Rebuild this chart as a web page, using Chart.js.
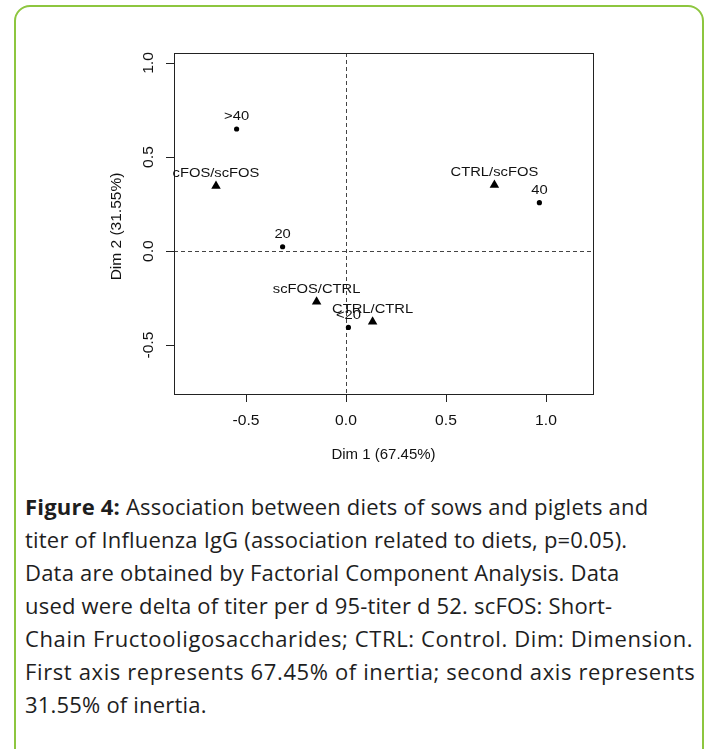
<!DOCTYPE html>
<html>
<head>
<meta charset="utf-8">
<script src="https://cdn.jsdelivr.net/npm/chart.js@4.4.1/dist/chart.umd.min.js"></script>
<style>
  html, body { margin: 0; padding: 0; background: #fff; }
  body { width: 713px; height: 749px; position: relative; overflow: hidden; }
  .card {
    position: absolute; left: 14px; top: 5px; width: 690px; height: 760px;
    border: 2px solid #8dc63f; border-radius: 16px; box-sizing: border-box;
  }
  #chart { position: absolute; left: 0; top: 0; }
  .caption {
    position: absolute; left: 25px; top: 490px;
    font-family: "Open Sans", Lato, sans-serif; font-size: 22px; line-height: 33px;
    letter-spacing: 0.2px; color: #1e1e1e; white-space: nowrap;
  }
  .wide { letter-spacing: 0.62px; }
</style>
</head>
<body>
<div class="card"></div>
<canvas id="chart" width="713" height="480"></canvas>
<div class="caption">
  <b>Figure 4:</b> Association between diets of sows and piglets and<br>
  titer of Influenza IgG (association related to diets, p=0.05).<br>
  Data are obtained by Factorial Component Analysis. Data<br>
  used were delta of titer per d 95-titer d 52. scFOS: Short-<br>
  <span class="wide">Chain Fructooligosaccharides; CTRL: Control. Dim: Dimension.</span><br>
  <span class="wide">First axis represents 67.45% of inertia; second axis represents</span><br>
  31.55% of inertia.
</div>
<script>
// Diäten (Dreiecke)
const dietLabels = ["cFOS/scFOS", "CTRL/scFOS", "scFOS/CTRL", "CTRL/CTRL"];
const dietDim1 = [-0.65, 0.742, -0.147, 0.133];
const dietDim2 = [0.346, 0.351, -0.27, -0.376];

// Titer (Punkte)
const titerLabels = [">40", "40", "20", "<20"];
const titerDim1 = [-0.547, 0.967, -0.317, 0.012];
const titerDim2 = [0.649, 0.257, 0.023, -0.406];

// Achsen
const xTicks = [-0.5, 0.0, 0.5, 1.0];
const yTicks = [-0.5, 0.0, 0.5, 1.0];
const xTitle = "Dim 1 (67.45%)";
const yTitle = "Dim 2 (31.55%)";

const FONT = '"Liberation Sans", Arial, sans-serif';

function toPoints(xs, ys) {
  return xs.map((x, i) => ({ x: x, y: ys[i] }));
}

// Text, optional horizontal gestreckt (wie im Scan)
function drawText(ctx, txt, x, y, size, stretch, rot) {
  ctx.save();
  ctx.translate(x, y);
  if (rot) ctx.rotate(rot);
  ctx.scale(stretch, 1);
  ctx.font = size + "px " + FONT;
  ctx.fillStyle = "#111";
  ctx.textAlign = "center";
  ctx.textBaseline = "middle";
  ctx.fillText(txt, 0, 0);
  ctx.restore();
}

// Rahmen, Achsen, Nulllinien und Beschriftungen im R-Stil
const rAxesPlugin = {
  id: "rAxes",
  beforeDatasetsDraw(chart) {
    const { ctx, chartArea: a, scales: { x, y } } = chart;
    ctx.save();
    ctx.strokeStyle = "#444";
    ctx.lineWidth = 1;
    ctx.setLineDash([4, 3]);
    const x0 = Math.round(x.getPixelForValue(0)) + 0.5;
    const y0 = Math.round(y.getPixelForValue(0)) + 0.5;
    ctx.beginPath();
    ctx.moveTo(x0, a.top); ctx.lineTo(x0, a.bottom);
    ctx.moveTo(a.left, y0); ctx.lineTo(a.right, y0);
    ctx.stroke();
    ctx.restore();
  },
  afterDraw(chart) {
    const { ctx, chartArea: a, scales: { x, y } } = chart;
    ctx.save();
    ctx.strokeStyle = "#222";
    ctx.lineWidth = 1;
    ctx.strokeRect(a.left + 0.5, a.top + 0.5, a.right - a.left, a.bottom - a.top);

    ctx.beginPath();
    // x-Achse
    xTicks.forEach(v => {
      const px = Math.round(x.getPixelForValue(v)) + 0.5;
      ctx.moveTo(px, a.bottom); ctx.lineTo(px, a.bottom + 8);
    });
    // y-Achse
    yTicks.forEach(v => {
      const py = Math.round(y.getPixelForValue(v)) + 0.5;
      ctx.moveTo(a.left, py); ctx.lineTo(a.left - 8, py);
    });
    ctx.stroke();
    ctx.restore();

    xTicks.forEach(v => drawText(ctx, v.toFixed(1), x.getPixelForValue(v), a.bottom + 27, 14.5, 1.08));
    yTicks.forEach(v => drawText(ctx, v.toFixed(1), a.left - 25, y.getPixelForValue(v), 14.5, 1.08, -Math.PI / 2));
    drawText(ctx, xTitle, (a.left + a.right) / 2, a.bottom + 61, 15, 1);
    drawText(ctx, yTitle, a.left - 57, (a.top + a.bottom) / 2 + 3, 15.5, 1, -Math.PI / 2);

    // Punktbeschriftungen über den Markern
    chart.data.datasets.forEach((ds, i) => {
      const meta = chart.getDatasetMeta(i);
      meta.data.forEach((pt, j) => {
        drawText(ctx, ds.pointLabels[j], pt.x, pt.y - 12, 12.5, 1.18);
      });
    });
  }
};

new Chart(document.getElementById("chart"), {
  type: "scatter",
  data: {
    datasets: [
      {
        label: "Diät",
        data: toPoints(dietDim1, dietDim2),
        pointLabels: dietLabels,
        pointStyle: "triangle",
        pointRadius: 5.5,
        backgroundColor: "#000",
        borderColor: "#000",
        borderWidth: 0
      },
      {
        label: "Titer",
        data: toPoints(titerDim1, titerDim2),
        pointLabels: titerLabels,
        pointStyle: "circle",
        pointRadius: 2.6,
        backgroundColor: "#000",
        borderColor: "#000",
        borderWidth: 0
      }
    ]
  },
  options: {
    responsive: false,
    animation: false,
    layout: { padding: { left: 174, top: 53, right: 120, bottom: 86 } },
    plugins: { legend: { display: false }, tooltip: { enabled: false } },
    scales: {
      x: { type: "linear", display: false, min: -0.86, max: 1.235 },
      y: { type: "linear", display: false, min: -0.76, max: 1.053 }
    }
  },
  plugins: [rAxesPlugin]
});
</script>
</body>
</html>
